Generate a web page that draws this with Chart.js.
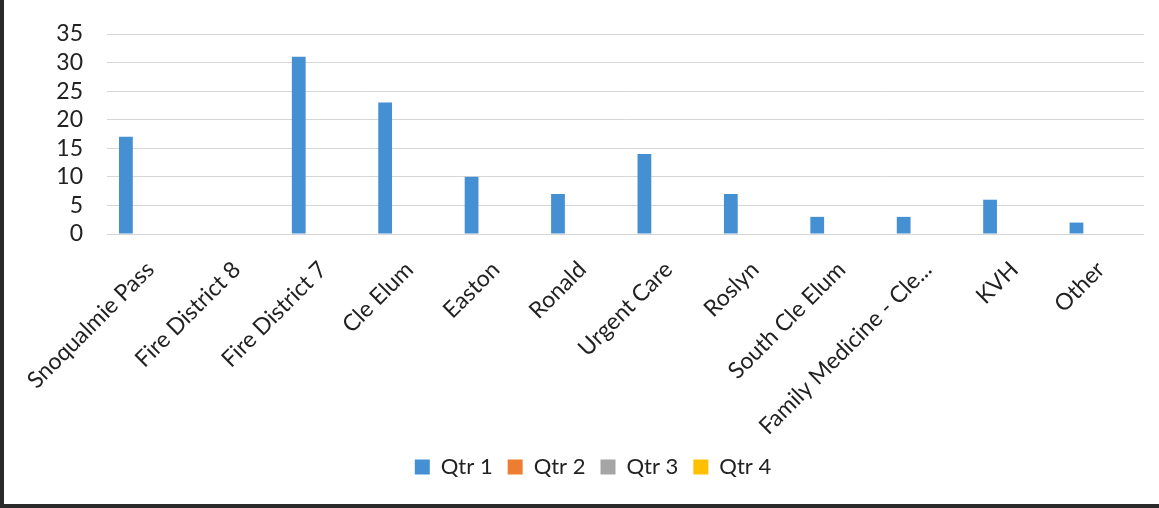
<!DOCTYPE html>
<html>
<head>
<meta charset="utf-8">
<script src="https://cdn.jsdelivr.net/npm/chart.js@4/dist/chart.umd.min.js"></script>
<style>
  html, body { margin: 0; padding: 0; background: #fff; }
  #wrap { position: absolute; left: 0; top: 0; width: 1159px; height: 508px; box-sizing: border-box;
          border-left: 4px solid #2a2a2a; border-bottom: 4px solid #2a2a2a; }
  #c { display: block; }
</style>
</head>
<body>
<div id="wrap"><canvas id="c" width="1155" height="504"></canvas></div>
<script>
const categories = ["Snoqualmie Pass", "Fire District 8", "Fire District 7", "Cle Elum", "Easton", "Ronald",
  "Urgent Care", "Roslyn", "South Cle Elum", "Family Medicine - Cle...", "KVH", "Other"];
const qtr1 = [17, 0, 31, 23, 10, 7, 14, 7, 3, 3, 6, 2];
const qtr2 = [0, 0, 0, 0, 0, 0, 0, 0, 0, 0, 0, 0];
const qtr3 = [0, 0, 0, 0, 0, 0, 0, 0, 0, 0, 0, 0];
const qtr4 = [0, 0, 0, 0, 0, 0, 0, 0, 0, 0, 0, 0];
const seriesNames = ["Qtr 1", "Qtr 2", "Qtr 3", "Qtr 4"];
const yMin = 0, yMax = 35, yStep = 5;

const colors = ["#4590d2", "#ED7D31", "#A5A5A5", "#FFC000"];
const FONT = "Lato, 'Noto Sans', sans-serif";

new Chart(document.getElementById('c'), {
  type: 'bar',
  data: {
    labels: categories,
    datasets: [qtr1, qtr2, qtr3, qtr4].map((d, i) => ({
      label: seriesNames[i],
      data: d,
      backgroundColor: colors[i],
      borderWidth: 0,
      categoryPercentage: 0.75,
      barPercentage: 0.85
    }))
  },
  options: {
    responsive: false,
    animation: false,
    devicePixelRatio: 1,
    layout: { padding: { left: 38, right: 15, top: 34, bottom: 16 } },
    plugins: {
      tooltip: { enabled: false },
      legend: {
        position: 'bottom',
        labels: {
          boxWidth: 15, boxHeight: 15, padding: 15,
          color: '#222',
          font: { family: FONT, size: 22 }
        }
      }
    },
    scales: {
      x: {
        grid: { display: false, drawTicks: false },
        border: { display: false },
        ticks: {
          autoSkip: false, maxRotation: 45, minRotation: 45, padding: 22,
          color: '#222', font: { family: FONT, size: 23 }
        },
        afterFit: (s) => { s.height = 207; s.paddingTop = 0; s.paddingBottom = 0; }
      },
      y: {
        min: yMin, max: yMax,
        grid: { color: '#d6d6d6', lineWidth: 1, drawTicks: false },
        border: { display: false },
        ticks: { stepSize: yStep, autoSkip: false, padding: 24, color: '#222', font: { family: FONT, size: 23 } },
        afterFit: (s) => { s.width = 65; s.paddingTop = 0; s.paddingBottom = 0; }
      }
    }
  }
});
</script>
</body>
</html>
